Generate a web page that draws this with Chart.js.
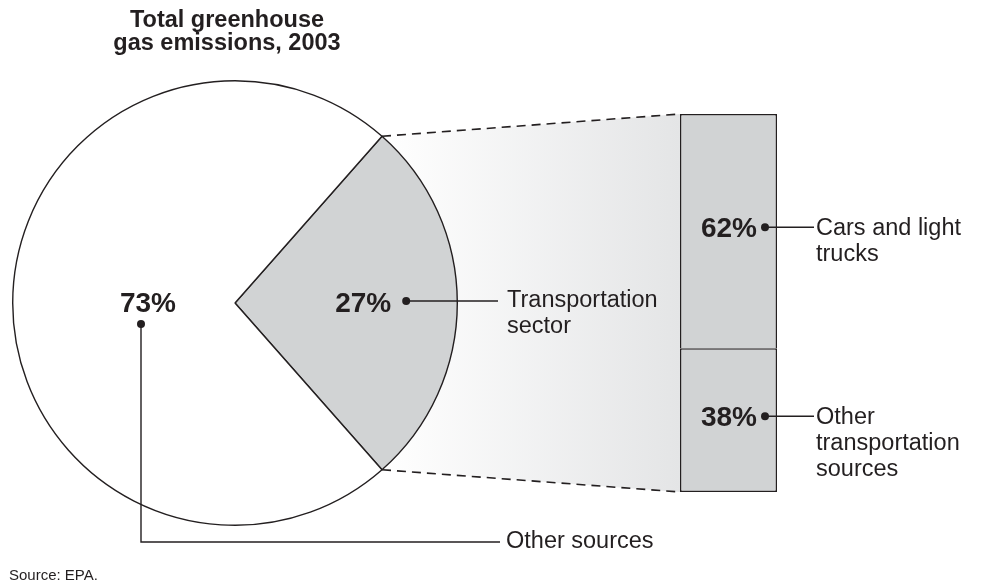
<!DOCTYPE html>
<html>
<head>
<meta charset="utf-8">
<script src="https://cdn.jsdelivr.net/npm/chart.js@4"></script>
<style>
  body { margin: 0; background: #fff; }
  #wrap { position: relative; width: 982px; height: 583px; }
  #wrap canvas { position: absolute; left: 0; top: 0; }
</style>
</head>
<body>
<div id="wrap">
  <canvas id="pieChart" width="982" height="583"></canvas>
  <canvas id="barChart" width="982" height="583"></canvas>
</div>
<script>
// data
var titleLines = ['Total greenhouse', 'gas emissions, 2003'];
var pieLabels = ['Transportation sector', 'Other sources'];
var pieValues = [27, 73];
var pieLabelLines = [['Transportation', 'sector'], ['Other sources']];
var barLabels = ['Other transportation sources', 'Cars and light trucks'];
var barValues = [38, 62];
var barLabelLines = [['Other', 'transportation', 'sources'], ['Cars and light', 'trucks']];
var sourceNote = 'Source: EPA.';

var ink = '#231f20';
var grey = '#d1d3d4';
var fam = '"Liberation Sans", Arial, Helvetica, sans-serif';

Chart.defaults.font.family = fam;

function dot(ctx, x, y) {
    ctx.beginPath();
    ctx.arc(x, y, 4, 0, Math.PI * 2);
    ctx.fillStyle = ink;
    ctx.fill();
}

function lines(ctx, arr, x, y, lh) {
    arr.forEach(function (t, i) { ctx.fillText(t, x, y + i * lh); });
}

// right hand bar (breakdown of transportation)
var barLabelPlugin = {
    id: 'barLabels',
    afterDatasetsDraw: function (chart) {
        var ctx = chart.ctx;
        var area = chart.chartArea;
        ctx.save();
        chart.data.datasets.forEach(function (ds, i) {
            var bar = chart.getDatasetMeta(i).data[0];
            var cy = (bar.y + bar.base) / 2 - 4;
            var dx = area.right - 12;
            ctx.font = 'bold 28px ' + fam;
            ctx.fillStyle = ink;
            ctx.textAlign = 'right';
            ctx.textBaseline = 'middle';
            ctx.fillText(ds.data[0] + '%', dx - 8, cy + 2);
            dot(ctx, dx, cy);
            ctx.beginPath();
            ctx.moveTo(dx, cy);
            ctx.lineTo(area.right + 37, cy);
            ctx.strokeStyle = ink;
            ctx.lineWidth = 1.4;
            ctx.stroke();
            ctx.font = '23.5px ' + fam;
            ctx.textAlign = 'left';
            lines(ctx, barLabelLines[i], area.right + 39, cy + 1, 26);
        });
        ctx.restore();
    }
};

var barChart = new Chart(document.getElementById('barChart'), {
    type: 'bar',
    data: {
        labels: ['Transportation'],
        datasets: [
            {
                label: barLabels[0],
                data: [barValues[0]],
                backgroundColor: grey,
                borderColor: ink,
                borderWidth: 1.5,
                borderSkipped: false,
                inflateAmount: 0
            },
            {
                label: barLabels[1],
                data: [barValues[1]],
                backgroundColor: grey,
                borderColor: ink,
                borderWidth: 1.5,
                borderSkipped: 'bottom',
                inflateAmount: 0
            }
        ]
    },
    options: {
        responsive: false,
        animation: false,
        layout: { padding: { left: 680, right: 205, top: 114, bottom: 91 } },
        datasets: { bar: { barPercentage: 1, categoryPercentage: 1 } },
        scales: {
            x: { display: false, stacked: true },
            y: { display: false, stacked: true, min: 0, max: 100 }
        },
        plugins: { legend: { display: false }, tooltip: { enabled: false } }
    },
    plugins: [barLabelPlugin]
});

// connector, title and labels around the pie
var piePlugin = {
    id: 'pieExtras',
    beforeDatasetsDraw: function (chart) {
        var ctx = chart.ctx;
        var arc = chart.getDatasetMeta(0).data[0];
        var r = arc.outerRadius;
        var p1 = { x: arc.x + r * Math.cos(arc.startAngle), y: arc.y + r * Math.sin(arc.startAngle) };
        var p2 = { x: arc.x + r * Math.cos(arc.endAngle), y: arc.y + r * Math.sin(arc.endAngle) };
        var b = barChart.chartArea;
        ctx.save();
        var g = ctx.createLinearGradient(p1.x, 0, b.left, 0);
        g.addColorStop(0, '#ffffff');
        g.addColorStop(1, '#e4e5e6');
        ctx.beginPath();
        ctx.moveTo(p1.x, p1.y);
        ctx.lineTo(b.left, b.top);
        ctx.lineTo(b.left, b.bottom);
        ctx.lineTo(p2.x, p2.y);
        ctx.closePath();
        ctx.fillStyle = g;
        ctx.fill();
        ctx.setLineDash([9, 6]);
        ctx.strokeStyle = ink;
        ctx.lineWidth = 1.6;
        ctx.beginPath();
        ctx.moveTo(p1.x, p1.y);
        ctx.lineTo(b.left, b.top);
        ctx.moveTo(p2.x, p2.y);
        ctx.lineTo(b.left, b.bottom);
        ctx.stroke();
        ctx.restore();
    },
    afterDatasetsDraw: function (chart) {
        var ctx = chart.ctx;
        var arc = chart.getDatasetMeta(0).data[0];
        var cx = arc.x, cy = arc.y, r = arc.outerRadius;
        ctx.save();
        ctx.fillStyle = ink;
        ctx.strokeStyle = ink;
        ctx.lineWidth = 1.4;

        // title
        ctx.font = 'bold 23.5px ' + fam;
        ctx.textAlign = 'center';
        ctx.textBaseline = 'alphabetic';
        lines(ctx, titleLines, cx - 8, 27, 23);

        // transportation slice
        var d1 = { x: cx + r * 0.77, y: cy - 2 };
        ctx.font = 'bold 28px ' + fam;
        ctx.textAlign = 'right';
        ctx.textBaseline = 'middle';
        ctx.fillText(pieValues[0] + '%', d1.x - 15, cy + 1);
        dot(ctx, d1.x, d1.y);
        ctx.beginPath();
        ctx.moveTo(d1.x, d1.y);
        ctx.lineTo(498, d1.y);
        ctx.stroke();
        ctx.font = '23.5px ' + fam;
        ctx.textAlign = 'left';
        lines(ctx, pieLabelLines[0], 507, d1.y, 26);

        // other sources slice
        var d2 = { x: cx - 94, y: cy + 21 };
        ctx.font = 'bold 28px ' + fam;
        ctx.textAlign = 'center';
        ctx.fillText(pieValues[1] + '%', d2.x + 7, cy + 1);
        dot(ctx, d2.x, d2.y);
        ctx.beginPath();
        ctx.moveTo(d2.x, d2.y);
        ctx.lineTo(d2.x, 542);
        ctx.lineTo(500, 542);
        ctx.stroke();
        ctx.font = '23.5px ' + fam;
        ctx.textAlign = 'left';
        lines(ctx, pieLabelLines[1], 506, 542, 26);

        // source
        ctx.font = '15px ' + fam;
        ctx.textBaseline = 'alphabetic';
        ctx.fillText(sourceNote, 9, 580);
        ctx.restore();
    }
};

var pieChart = new Chart(document.getElementById('pieChart'), {
    type: 'pie',
    data: {
        labels: pieLabels,
        datasets: [
            {
                data: pieValues,
                backgroundColor: [grey, '#ffffff'],
                borderColor: ink,
                borderWidth: 1.4
            }
        ]
    },
    options: {
        responsive: false,
        animation: false,
        rotation: 90 - pieValues[0] * 3.6 / 2,
        layout: { padding: { left: 12, right: 524, top: 80, bottom: 57 } },
        plugins: { legend: { display: false }, tooltip: { enabled: false } }
    },
    plugins: [piePlugin]
});
</script>
</body>
</html>
